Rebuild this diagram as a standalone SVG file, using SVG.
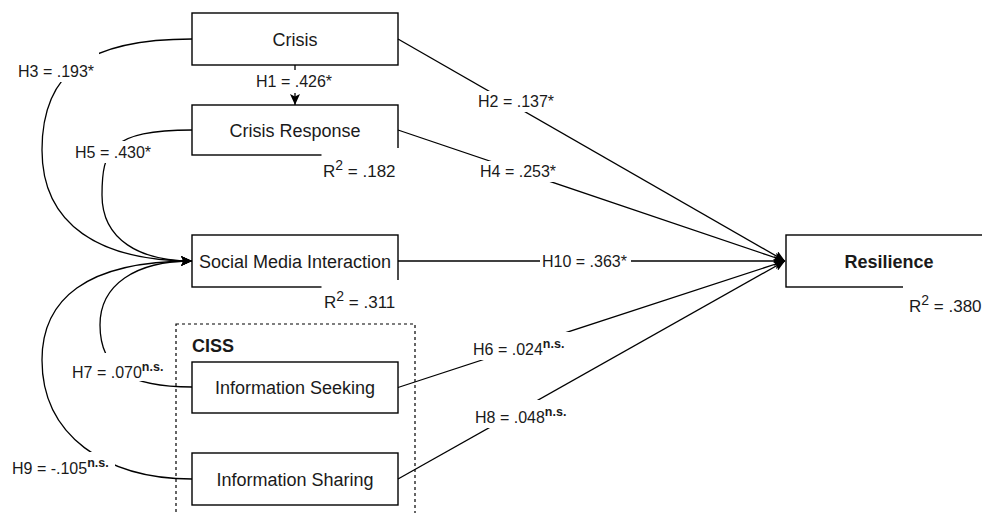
<svg xmlns="http://www.w3.org/2000/svg" width="982" height="513" viewBox="0 0 982 513">
<style>
.box{fill:#fff;stroke:#000;stroke-width:1.4}
.nt{font-family:"Liberation Sans",Arial,sans-serif;font-size:18px;fill:#1a1a1a;text-anchor:middle}
.b{font-weight:bold}
.lt{font-family:"Liberation Sans",Arial,sans-serif;font-size:16px;fill:#1a1a1a}
.r2{font-size:17px}
.sup{font-size:12.5px;font-weight:bold}
.r2sup{font-size:14px}
.e{fill:none;stroke:#000;stroke-width:1.3}
.bg{fill:#fff;stroke:none}
</style>
<defs>
<marker id="arr" markerUnits="userSpaceOnUse" viewBox="0 0 11 10" refX="11" refY="5" markerWidth="11" markerHeight="10" orient="auto">
<path d="M0,0 L11,5 L0,10 L2.5,5 Z" fill="#000"/>
</marker>
</defs>

<g id="ciss">
<rect x="176" y="324" width="239" height="200" fill="none" stroke="#000" stroke-width="1.2" stroke-dasharray="3 3"/>
<text class="nt b" x="192" y="352" style="text-anchor:start">CISS</text>
</g>

<g id="crisis">
<rect class="box" x="192" y="13" width="206" height="52"/>
<text class="nt" x="295" y="45.5">Crisis</text>
</g>

<g id="crisis-response">
<rect class="box" x="192" y="105" width="206" height="50"/>
<text class="nt" x="295" y="136.5">Crisis Response</text>
<rect class="bg" x="321.5" y="148" width="80" height="36"/>
<text class="lt r2" x="323" y="177">R<tspan class="r2sup" dy="-7">2</tspan><tspan dy="7"> = .182</tspan></text>
</g>

<g id="social-media-interaction">
<rect class="box" x="192" y="235" width="206" height="52"/>
<text class="nt" x="295" y="267.5">Social Media Interaction</text>
<rect class="bg" x="321.5" y="280" width="80" height="36"/>
<text class="lt r2" x="324" y="308">R<tspan class="r2sup" dy="-7">2</tspan><tspan dy="7"> = .311</tspan></text>
</g>

<g id="information-seeking">
<rect class="box" x="192" y="362" width="206" height="51"/>
<text class="nt" x="295" y="394">Information Seeking</text>
</g>

<g id="information-sharing">
<rect class="box" x="192" y="453" width="206" height="52"/>
<text class="nt" x="295" y="485.5">Information Sharing</text>
</g>

<g id="resilience">
<rect class="box" x="786" y="235" width="220" height="52"/>
<text class="nt b" x="889" y="267.5">Resilience</text>
<rect class="bg" x="903" y="280" width="82" height="38"/>
<text class="lt r2" x="909" y="312">R<tspan class="r2sup" dy="-7">2</tspan><tspan dy="7"> = .380</tspan></text>
</g>

<g id="connectors">
<path class="e" d="M295,65 L295,105" marker-end="url(#arr)"/>
<path class="e" d="M398,39 L785,261" marker-end="url(#arr)"/>
<path class="e" d="M398,130 L785,261" marker-end="url(#arr)"/>
<path class="e" d="M398,261 L785,261" marker-end="url(#arr)"/>
<path class="e" d="M398,387.5 L785,261" marker-end="url(#arr)"/>
<path class="e" d="M398,479 L785,261" marker-end="url(#arr)"/>
<path class="e" d="M192,39 C90,39 42,70 42,150 C42,225 100,261 192,261" marker-end="url(#arr)"/>
<path class="e" d="M192,130 C110,130 102,150 102,195 C102,240 140,261 192,261" marker-end="url(#arr)"/>
<path class="e" d="M192,387 C130,387 100,370 100,325 C100,285 135,261 192,261" marker-end="url(#arr)"/>
<path class="e" d="M192,479 C105,479 42,435 42,360 C42,300 85,261 192,261" marker-end="url(#arr)"/>

<rect class="bg" x="254" y="70" width="81" height="23"/>
<text class="lt" x="256" y="87">H1 = .426*</text>
<rect class="bg" x="476" y="91" width="78" height="21"/>
<text class="lt" x="478" y="107">H2 = .137*</text>
<rect class="bg" x="478" y="161" width="81" height="21"/>
<text class="lt" x="480" y="177">H4 = .253*</text>
<rect class="bg" x="540" y="251" width="91" height="21"/>
<text class="lt" x="542" y="267">H10 = .363*</text>
<rect class="bg" x="471" y="332" width="100" height="28"/>
<text class="lt" x="473" y="355">H6 = .024<tspan class="sup" dy="-7">n.s.</tspan></text>
<rect class="bg" x="473" y="400" width="99" height="28"/>
<text class="lt" x="475" y="423">H8 = .048<tspan class="sup" dy="-7">n.s.</tspan></text>
<rect class="bg" x="16" y="52" width="83" height="30"/>
<text class="lt" x="18" y="77">H3 = .193*</text>
<rect class="bg" x="73" y="141" width="84" height="22"/>
<text class="lt" x="75" y="158">H5 = .430*</text>
<rect class="bg" x="70" y="353" width="99" height="28"/>
<text class="lt" x="72" y="378">H7 = .070<tspan class="sup" dy="-7">n.s.</tspan></text>
<rect class="bg" x="10" y="452" width="105" height="26"/>
<text class="lt" x="12" y="474">H9 = -.105<tspan class="sup" dy="-7">n.s.</tspan></text>
</g>
</svg>
